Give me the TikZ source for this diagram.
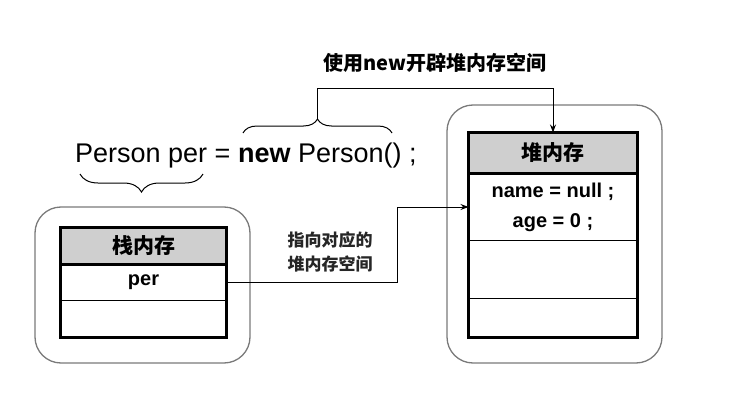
\documentclass[tikz,border=0pt]{standalone}
\usepackage{fontspec}
\setmainfont{Liberation Sans}
\newfontfamily\cjk{Noto Sans CJK SC}
\usetikzlibrary{arrows.meta,decorations.pathreplacing}
\definecolor{hdrgray}{HTML}{CFCFCF}
\definecolor{boxgray}{HTML}{7A7A7A}
\begin{document}
\begin{tikzpicture}[x=1pt,y=-1pt,
  outerbox/.style={draw=boxgray, line width=1.3pt, rounded corners=26pt, inner sep=0pt},
  hdr/.style={draw, line width=1pt, fill=hdrgray, inner sep=0pt, font=\cjk\bfseries\fontsize{21}{24}\selectfont},
  cellbox/.style={draw, line width=1pt, inner sep=0pt, font=\bfseries\fontsize{20}{30}\selectfont, align=center},
  frame/.style={line width=3pt},
  conn/.style={line width=1pt, -{Stealth[length=8pt,width=6pt]}},
  bracestyle/.style={line width=1pt, decorate, decoration={brace, amplitude=#1}},
]
\useasboundingbox (0,0) rectangle (732,415);

% code line
\node[anchor=base west, inner sep=0pt, font=\fontsize{27}{32}\selectfont] (code) at (75,162) {Person per = \textbf{new} Person() ;};

% stack
\node[outerbox, minimum width=215pt, minimum height=156pt] (stackbox) at (142.5,285) {};
\node[hdr, minimum width=165pt, minimum height=36pt] (shead) at (143.5,246) {栈内存};
\node[cellbox, minimum width=165pt, minimum height=36pt] (srow1) at (143.5,282) {per};
\node[cellbox, minimum width=165pt, minimum height=37pt] (srow2) at (143.5,318.5) {};
\draw[frame] (shead.north west) rectangle (srow2.south east);
\draw[frame] (shead.south west) -- (shead.south east);

% heap
\node[outerbox, minimum width=215pt, minimum height=258pt] (heapbox) at (554.5,234) {};
\node[hdr, minimum width=168pt, minimum height=40pt] (hhead) at (553,153) {堆内存};
\node[cellbox, minimum width=168pt, minimum height=67pt] (hrow1) at (553,207) {name = null ;\\age = 0 ;};
\node[cellbox, minimum width=168pt, minimum height=58pt] (hrow2) at (553,269) {};
\node[cellbox, minimum width=168pt, minimum height=39pt] (hrow3) at (553,317.5) {};
\draw[frame] (hhead.north west) rectangle (hrow3.south east);
\draw[frame] (hhead.south west) -- (hhead.south east);

% braces
\draw[bracestyle=14pt] (243,133) -- (392,133);
\draw[bracestyle=18pt] (203,174) -- (80,174);
\coordinate (bracetip) at (317.5,119);
\coordinate (topcorner) at (553,88);
\coordinate (bend) at (397,282);

% labels
\node[font=\cjk\bfseries\fontsize{20}{22}\selectfont, inner sep=0pt] (toplabel) at (435,63) {使用new开辟堆内存空间};
\node[font=\cjk\bfseries\fontsize{17}{24}\selectfont, align=center, inner sep=0pt, text=black!85] (ptrlabel) at (330,252) {指向对应的\\堆内存空间};

% connectors
\draw[conn] (bracetip) |- (topcorner) -- (hhead.north);
\draw[conn] (srow1.east) -- (bend) |- (hrow1.west);
\end{tikzpicture}
\end{document}
